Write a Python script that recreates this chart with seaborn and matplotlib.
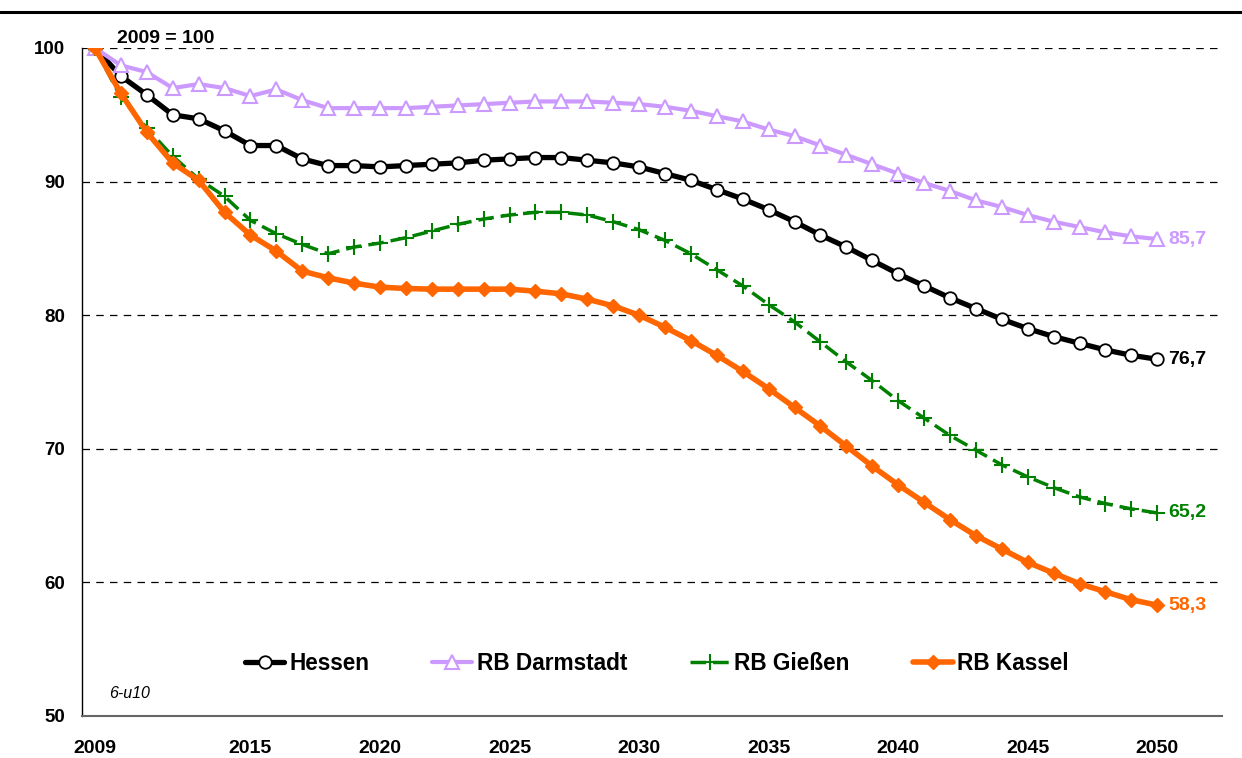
import numpy as np
import pandas as pd
import matplotlib
matplotlib.use("Agg")
import matplotlib.pyplot as plt
from matplotlib.lines import Line2D
import seaborn as sns

# ---- data (index 2009 = 100) ----
years = list(range(2009, 2051))

hessen = [100.0, 97.9, 96.5, 95.0, 94.7, 93.8, 92.7, 92.7, 91.7, 91.2,
          91.2, 91.1, 91.2, 91.3, 91.4, 91.6, 91.7, 91.8, 91.8, 91.6,
          91.4, 91.1, 90.6, 90.1, 89.4, 88.7, 87.9, 87.0, 86.0, 85.1,
          84.1, 83.1, 82.2, 81.3, 80.5, 79.7, 79.0, 78.4, 77.9, 77.4,
          77.0, 76.7]
darmstadt = [100.0, 98.7, 98.2, 97.0, 97.3, 97.0, 96.4, 96.9, 96.1, 95.5,
             95.5, 95.5, 95.5, 95.6, 95.7, 95.8, 95.9, 96.0, 96.0, 96.0,
             95.9, 95.8, 95.6, 95.3, 94.9, 94.5, 93.9, 93.4, 92.7, 92.0,
             91.3, 90.6, 89.9, 89.3, 88.6, 88.1, 87.5, 87.0, 86.6, 86.2,
             85.9, 85.7]
giessen = [100.0, 96.3, 94.0, 91.9, 90.2, 88.9, 87.1, 86.1, 85.3, 84.6,
           85.1, 85.4, 85.8, 86.3, 86.8, 87.2, 87.5, 87.7, 87.7, 87.5,
           87.0, 86.4, 85.6, 84.6, 83.4, 82.2, 80.8, 79.5, 78.0, 76.5,
           75.1, 73.6, 72.3, 71.0, 69.9, 68.8, 67.9, 67.1, 66.4, 65.9,
           65.5, 65.2]
kassel = [100.0, 96.6, 93.7, 91.4, 90.1, 87.7, 86.0, 84.8, 83.3, 82.8,
          82.4, 82.1, 82.0, 81.95, 81.95, 81.95, 81.95, 81.8, 81.6, 81.2,
          80.7, 80.0, 79.1, 78.1, 77.0, 75.8, 74.5, 73.1, 71.7, 70.2,
          68.7, 67.3, 66.0, 64.7, 63.5, 62.5, 61.5, 60.7, 59.9, 59.3,
          58.7, 58.3]

series_names = ["Hessen", "RB Darmstadt", "RB Gießen", "RB Kassel"]
end_labels = ["76,7", "85,7", "65,2", "58,3"]
xtick_years = [2009, 2015, 2020, 2025, 2030, 2035, 2040, 2045, 2050]
ytick_vals = [50, 60, 70, 80, 90, 100]

df = pd.DataFrame({"year": years * 4,
                   "value": hessen + darmstadt + giessen + kassel,
                   "region": sum([[n] * len(years) for n in series_names], [])})

sns.set_theme(style="white")
plt.rcParams["font.family"] = ["Liberation Sans", "DejaVu Sans"]
plt.rcParams["font.weight"] = "bold"
plt.rcParams["text.color"] = "black"

fig = plt.figure(figsize=(12.42, 7.58), dpi=100)
ax = fig.add_axes([82 / 1242, 1 - 716 / 758, (1222 - 82) / 1242, (716 - 48) / 758])

styles = {
    "Hessen": dict(color="black", lw=3.8, marker="o", ms=9, mfc="white", mec="black", mew=1.3, ls="-"),
    "RB Darmstadt": dict(color="#CC99FF", lw=3, marker="^", ms=9.5, mfc="white", mec="#CC99FF", mew=1.5, ls="-"),
    "RB Gießen": dict(color="#008000", lw=2.5, marker="+", ms=11, mfc="#008000", mec="#008000", mew=1.5, ls=(0, (4.5, 2))),
    "RB Kassel": dict(color="#FF6600", lw=4, marker="D", ms=7, mfc="#FF6600", mec="#FF6600", mew=1, ls="-"),
}

for name in series_names:
    st = styles[name]
    sub = df[df["region"] == name]
    sns.lineplot(data=sub, x="year", y="value", ax=ax, color=st["color"], linewidth=st["lw"],
                 linestyle=st["ls"], marker=st["marker"], markersize=st["ms"],
                 markerfacecolor=st["mfc"], markeredgecolor=st["mec"], markeredgewidth=st["mew"],
                 label=name, zorder=3)

# end labels
for name, lab in zip(series_names, end_labels):
    yv = df[(df["region"] == name) & (df["year"] == years[-1])]["value"].iloc[0]
    ax.annotate(lab, (years[-1], yv), xytext=(8, 0), textcoords="offset points",
                ha="left", va="center", fontsize=14, fontweight="bold",
                color=styles[name]["color"])

ax.set_xlim(2008.5, 2052.5)
ax.set_ylim(50, 100)
ax.set_xticks(xtick_years)
ax.set_xticklabels([str(y) for y in xtick_years], fontsize=14, fontweight="bold")
ax.set_xticks(np.arange(2008.5, 2053, 1), minor=True)
ax.tick_params(axis="x", which="major", length=0, pad=17, labelcolor="black")
ax.tick_params(axis="x", which="minor", length=6, width=1, color="#555555", direction="out")
ax.set_yticks(ytick_vals)
ax.set_yticklabels([str(v) for v in ytick_vals], fontsize=13.5, fontweight="bold")
ax.tick_params(axis="y", length=6, width=1, color="black", direction="out", pad=6, labelcolor="black")
ax.set_xlabel("")
ax.set_ylabel("")

for v in ytick_vals[1:]:
    ax.axhline(v, color="black", lw=0.9, ls=(0, (6, 5)), zorder=1)

for s in ["top", "right"]:
    ax.spines[s].set_visible(False)
ax.spines["left"].set_color("black")
ax.spines["left"].set_linewidth(1)
ax.spines["bottom"].set_color("#666666")
ax.spines["bottom"].set_linewidth(1.5)

leg = ax.legend(loc="center left", bbox_to_anchor=(0.125, 0.078), ncol=4, frameon=False,
                handlelength=1.75, handletextpad=0.2, columnspacing=2.8,
                prop={"weight": "bold", "size": 16.3})
for txt in leg.get_texts():
    txt.set_color("black")

ax.text(2009.85, 100.37, "2009 = 100", fontsize=14, fontweight="bold", ha="left", va="baseline")
ax.text(2009.55, 51.35, "6-u10", fontsize=11.5, fontstyle="italic", fontweight="normal",
        ha="left", va="baseline")

fig.add_artist(Line2D([0, 1], [1 - 12 / 758, 1 - 12 / 758], color="black", lw=2.2, transform=fig.transFigure))

fig.savefig("out.png", dpi=100)
